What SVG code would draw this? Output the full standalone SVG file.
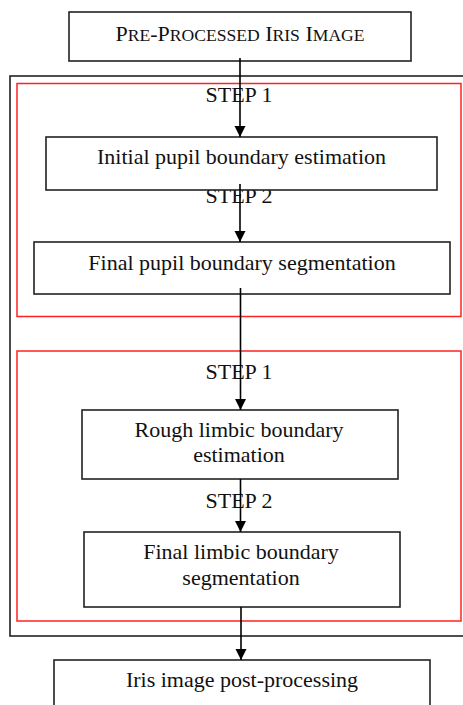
<svg xmlns="http://www.w3.org/2000/svg" width="463" height="705" viewBox="0 0 463 705">
<style>
.box{fill:#fff;stroke:#222;stroke-width:1.6}
.red{fill:none;stroke:#f22;stroke-width:1.5}
.outer{fill:none;stroke:#222;stroke-width:1.6}
.t{font-family:"Liberation Serif","Times New Roman",serif;font-size:22px;fill:#111;text-anchor:middle}
.sc{font-size:17.6px}
.conn{stroke:#000;stroke-width:1.6;fill:none}
</style>
<defs>
<marker id="arr" markerUnits="userSpaceOnUse" markerWidth="12" markerHeight="12" viewBox="0 0 12 12" refX="11" refY="6" orient="auto">
<path d="M0,0.5 L11,6 L0,11.5 Z" fill="#000"/>
</marker>
</defs>
<rect class="outer" x="10" y="76" width="470" height="560"/>
<rect class="red" x="17" y="83.5" width="444" height="233"/>
<rect class="red" x="17" y="351" width="444" height="270"/>
<g id="step-labels">
<text class="t" x="239" y="102">STEP 1</text>
<text class="t" x="239" y="203">STEP 2</text>
<text class="t" x="239" y="379">STEP 1</text>
<text class="t" x="239" y="508">STEP 2</text>
</g>
<g id="n-pre">
<rect class="box" x="69" y="12" width="342" height="49"/>
<text class="t" x="240" y="41">P<tspan class="sc">RE</tspan>-P<tspan class="sc">ROCESSED</tspan> I<tspan class="sc">RIS</tspan> I<tspan class="sc">MAGE</tspan></text>
</g>
<g id="n-initial">
<rect class="box" x="46" y="137" width="391" height="53"/>
<text class="t" x="241.5" y="164">Initial pupil boundary estimation</text>
</g>
<g id="n-finalpupil">
<rect class="box" x="34" y="242" width="416" height="52"/>
<text class="t" x="242" y="270">Final pupil boundary segmentation</text>
</g>
<g id="n-rough">
<rect class="box" x="82" y="410" width="316" height="69"/>
<text class="t" x="239" y="437">Rough limbic boundary</text>
<text class="t" x="239" y="462">estimation</text>
</g>
<g id="n-finallimbic">
<rect class="box" x="84" y="532" width="316" height="75"/>
<text class="t" x="241" y="559">Final limbic boundary</text>
<text class="t" x="241" y="585">segmentation</text>
</g>
<g id="n-post">
<rect class="box" x="54" y="660" width="376" height="60"/>
<text class="t" x="242" y="687">Iris image post-processing</text>
</g>
<g id="connectors">
<line class="conn" x1="240" y1="58" x2="240" y2="137" marker-end="url(#arr)"/>
<line class="conn" x1="240" y1="184" x2="240" y2="242" marker-end="url(#arr)"/>
<line class="conn" x1="240.5" y1="288" x2="240.5" y2="410" marker-end="url(#arr)"/>
<line class="conn" x1="240.5" y1="479" x2="240.5" y2="532" marker-end="url(#arr)"/>
<line class="conn" x1="241" y1="607" x2="241" y2="660" marker-end="url(#arr)"/>
</g>
</svg>
